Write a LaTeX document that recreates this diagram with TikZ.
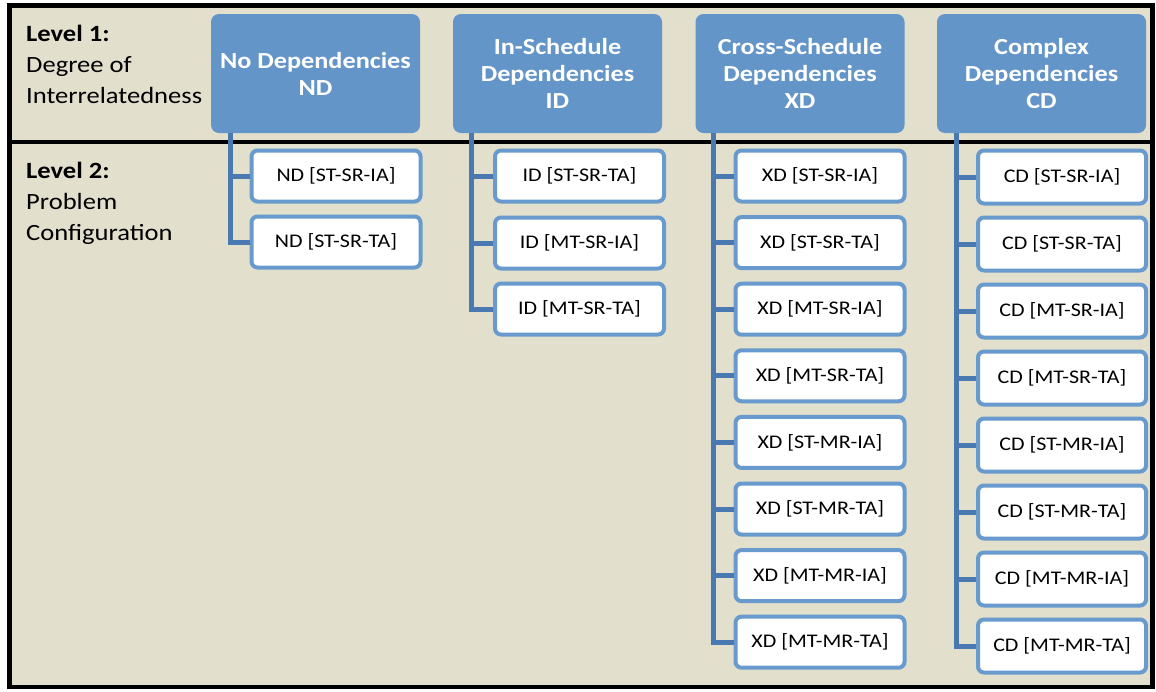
\documentclass[tikz,border=0pt]{standalone}
\usepackage{fontspec}
\setmainfont{Carlito}[FakeStretch=1.14]
\usetikzlibrary{calc}
\definecolor{bgbeige}{RGB}{226,223,205}
\definecolor{headblue}{RGB}{99,149,201}
\definecolor{edgeblue}{RGB}{104,154,206}
\definecolor{linkblue}{RGB}{74,121,177}
\tikzset{
  head/.style={fill=headblue, rounded corners=8pt, minimum width=209pt, minimum height=119pt,
    inner sep=0pt, text=white, align=center, font=\fontsize{23}{27}\selectfont\bfseries},
  leaf/.style={draw=edgeblue, line width=4pt, fill=white, rounded corners=6pt,
    minimum width=169pt, minimum height=51pt, inner sep=0pt, text=black,
    font=\fontsize{19.3}{23}\selectfont},
  cdleaf/.style={leaf, minimum width=168pt, minimum height=53pt},
  conn/.style={draw=linkblue, line width=5pt},
  lvl/.style={anchor=west, align=left, inner sep=0pt, font=\fontsize{23.3}{31}\selectfont},
}
\begin{document}
\begin{tikzpicture}[x=1pt,y=-1pt]
\useasboundingbox (0,0) rectangle (1156,691);
% panel background and frame
\fill[bgbeige] (9.5,5.5) rectangle (1152.5,687);
\draw[line width=3.5pt] (9.5,142) -- (1152.5,142);
\draw[line width=4.5pt] (9.5,5.5) rectangle (1152.5,687);

% level captions
\node[lvl] (l1) at (26,64) {\textbf{Level 1:}\\Degree of\\Interrelatedness};
\node[lvl] (l2) at (26,203) {\textbf{Level 2:}\\Problem\\Configuration};

% level 1 categories
\node[head] (nd) at (315.5,73.5) {No Dependencies\\ND};
\node[head] (id) at (557.5,73.5) {In-Schedule\\Dependencies\\ID};
\node[head] (xd) at (800,73.5) {Cross-Schedule\\Dependencies\\XD};
\node[head] (cd) at (1041.5,73.5) {Complex\\Dependencies\\CD};

% level 2 configurations
\node[leaf] (nd1) at (336,176) {ND [ST-SR-IA]};
\node[leaf] (nd2) at (336,242) {ND [ST-SR-TA]};

\node[leaf] (id1) at (579.5,176) {ID [ST-SR-TA]};
\node[leaf] (id2) at (579.5,243) {ID [MT-SR-IA]};
\node[leaf] (id3) at (579.5,309) {ID [MT-SR-TA]};

\foreach \n/\t [count=\i from 0] in {1/ST-SR-IA,2/ST-SR-TA,3/MT-SR-IA,4/MT-SR-TA,5/ST-MR-IA,6/ST-MR-TA,7/MT-MR-IA,8/MT-MR-TA}{
  \node[leaf] (xd\n) at (820,176+66.6*\i) {XD [\t]};
  \node[cdleaf] (cd\n) at (1062,177+67*\i) {CD [\t]};
}

% connectors from each category down to its configurations
\foreach \c in {nd1,nd2}{\draw[conn] ($(nd.south west)+(20,0)$) |- (\c.west);}
\foreach \c in {id1,id2,id3}{\draw[conn] ($(id.south west)+(19,0)$) |- (\c.west);}
\foreach \k in {1,...,8}{
  \draw[conn] ($(xd.south west)+(18,0)$) |- (xd\k.west);
  \draw[conn] ($(cd.south west)+(20,0)$) |- (cd\k.west);
}
\end{tikzpicture}
\end{document}
